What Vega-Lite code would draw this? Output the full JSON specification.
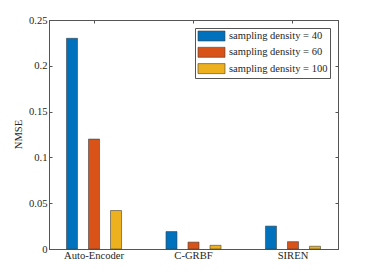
{
  "$schema": "https://vega.github.io/schema/vega-lite/v6.json",
  "width": 289,
  "height": 229,
  "autosize": "none",
  "padding": {"left": 49, "top": 20, "right": 36, "bottom": 31},
  "background": "white",
  "config": {
    "font": "Liberation Serif",
    "view": {"stroke": "#555555", "strokeWidth": 1},
    "axis": {
      "domainColor": "#555555",
      "tickColor": "#555555",
      "grid": false,
      "labelFont": "Liberation Serif",
      "titleFont": "Liberation Serif",
      "labelFontSize": 10.6,
      "titleFontSize": 10.6,
      "labelColor": "#262626",
      "titleColor": "#262626",
      "titleFontWeight": "normal",
      "tickSize": -3,
      "domainWidth": 1
    }
  },
  "data": {
    "values": [
      {"method": "Auto-Encoder", "density": "sampling density = 40", "nmse": 0.23},
      {"method": "Auto-Encoder", "density": "sampling density = 60", "nmse": 0.12},
      {"method": "Auto-Encoder", "density": "sampling density = 100", "nmse": 0.042},
      {"method": "C-GRBF", "density": "sampling density = 40", "nmse": 0.019},
      {"method": "C-GRBF", "density": "sampling density = 60", "nmse": 0.0075},
      {"method": "C-GRBF", "density": "sampling density = 100", "nmse": 0.004},
      {"method": "SIREN", "density": "sampling density = 40", "nmse": 0.025},
      {"method": "SIREN", "density": "sampling density = 60", "nmse": 0.008},
      {"method": "SIREN", "density": "sampling density = 100", "nmse": 0.003}
    ]
  },
  "layer": [
    {
      "mark": {"type": "bar", "stroke": "#404040", "strokeWidth": 0.6},
      "encoding": {
        "x": {
          "field": "method", "type": "nominal",
          "sort": ["Auto-Encoder", "C-GRBF", "SIREN"],
          "scale": {"paddingInner": 0.095, "paddingOuter": 0},
          "axis": {"title": null, "labelAngle": 0, "labelPadding": 4, "orient": "bottom"}
        },
        "xOffset": {
          "field": "density", "type": "nominal",
          "sort": ["sampling density = 40", "sampling density = 60", "sampling density = 100"],
          "scale": {"paddingInner": 0.5, "paddingOuter": 0.795}
        },
        "y": {
          "field": "nmse", "type": "quantitative",
          "scale": {"domain": [0, 0.25], "nice": false},
          "axis": {"title": "NMSE", "values": [0, 0.05, 0.1, 0.15, 0.2, 0.25], "format": ".2~f", "labelPadding": 5, "titleX": -31, "titleY": 114, "titleAlign": "center", "titleBaseline": "middle", "orient": "left"}
        },
        "color": {
          "field": "density", "type": "nominal",
          "sort": ["sampling density = 40", "sampling density = 60", "sampling density = 100"],
          "scale": {"range": ["#0072BD", "#D95319", "#EDB120"]},
          "legend": {
            "title": null,
            "orient": "none",
            "legendX": 146,
            "legendY": 8,
            "symbolType": "M-2.7,-1H2.7V1H-2.7Z",
            "symbolSize": 100,
            "symbolOffset": 8.5,
            "symbolStrokeColor": "#404040",
            "symbolStrokeWidth": 0.6,
            "labelFont": "Liberation Serif",
            "labelFontSize": 10.5,
            "labelColor": "#262626",
            "rowPadding": 3.3,
            "padding": 2.5,
            "strokeColor": "#555555",
            "fillColor": "white",
            "labelOffset": 12,
            "offset": 0
          }
        }
      }
    },
    {
      "mark": {"type": "bar", "opacity": 0},
      "encoding": {
        "x": {
          "field": "method", "type": "nominal",
          "sort": ["Auto-Encoder", "C-GRBF", "SIREN"],
          "axis": {"title": null, "labels": false, "orient": "top"}
        },
        "y": {
          "field": "nmse", "type": "quantitative",
          "axis": {"title": null, "labels": false, "values": [0, 0.05, 0.1, 0.15, 0.2, 0.25], "orient": "right"}
        }
      }
    }
  ],
  "resolve": {"axis": {"x": "independent", "y": "independent"}}
}
